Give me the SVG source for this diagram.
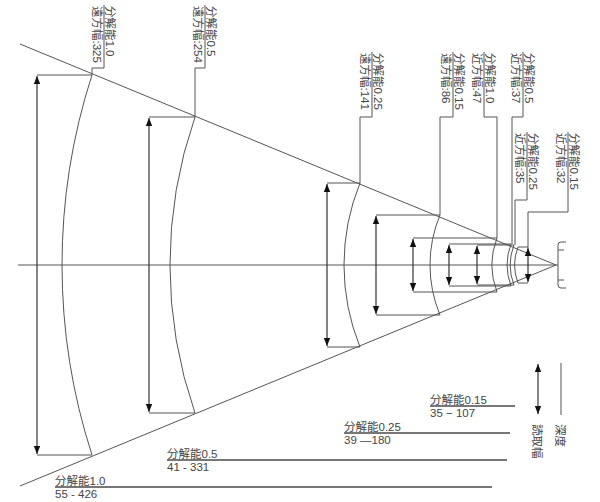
<svg xmlns="http://www.w3.org/2000/svg" width="600" height="502" viewBox="0 0 600 502">
<style>
.l{fill:none;stroke:#555;stroke-width:1}
.a{fill:none;stroke:#333;stroke-width:1.2;marker-start:url(#ar);marker-end:url(#ar)}
.t{font-family:"Liberation Sans","Noto Sans CJK JP",sans-serif;font-size:11.5px;fill:#444}
.lg{fill:none;stroke:#777;stroke-width:2}
</style>
<defs>
<marker id="ar" viewBox="0 0 10 10" refX="10" refY="5" markerWidth="8" markerHeight="8" markerUnits="userSpaceOnUse" orient="auto-start-reverse">
<path d="M0,1 L10,5 L0,9 Z" fill="#111"/>
</marker>
</defs>
<rect width="600" height="502" fill="#fff"/>
<g id="cone">
<line class="l" x1="20" y1="44" x2="556" y2="265"/>
<line class="l" x1="20" y1="486" x2="556" y2="265"/>
<line class="l" x1="18" y1="265" x2="558" y2="265"/>
<path class="l" d="M566,242 H561 Q558,242 558,245 V285 Q558,288 561,288 H566 M558,250 H564 M558,280 H564"/>
</g>
<g id="connectors">
<path class="l" d="M92,75 A617,617 0 0 0 92,455"/>
<path class="l" d="M195,117 A450,450 0 0 0 195,413"/>
<path class="l" d="M360,183 A218,218 0 0 0 360,347"/>
<path class="l" d="M440,215 A130,130 0 0 0 440,315"/>
<path class="l" d="M497,238 A75,75 0 0 0 497,292"/>
<path class="l" d="M511,244 A60,60 0 0 0 511,286"/>
<path class="l" d="M514,245 A55,55 0 0 0 514,285"/>
<path class="l" d="M518,247 A50,50 0 0 0 518,283"/>
<path class="l" d="M37,75 H92 M37,455 H92"/>
<path class="l" d="M149,117 H195 M149,413 H195"/>
<path class="l" d="M327,183 H360 M327,347 H360"/>
<path class="l" d="M376,215 H440 M376,315 H440"/>
<path class="l" d="M413,238 H497 M413,292 H497"/>
<path class="l" d="M449,244 H511 M449,286 H511"/>
<path class="l" d="M477,245 H514 M477,285 H514"/>
<path class="l" d="M518,247 H528 M518,283 H528"/>
<line class="a" x1="37" y1="76" x2="37" y2="454"/>
<line class="a" x1="149" y1="118" x2="149" y2="412"/>
<line class="a" x1="327" y1="184" x2="327" y2="346"/>
<line class="a" x1="376" y1="216" x2="376" y2="314"/>
<line class="a" x1="413" y1="239" x2="413" y2="291"/>
<line class="a" x1="449" y1="245" x2="449" y2="285"/>
<line class="a" x1="477" y1="246" x2="477" y2="284"/>
<line class="a" x1="528" y1="248" x2="528" y2="282"/>
<path class="l" d="M92,75 V68 H104 V5"/>
<path class="l" d="M195,117 V68 H205 V5"/>
<path class="l" d="M360,183 V117 H372 V52"/>
<path class="l" d="M440,215 V117 H453 V52"/>
<path class="l" d="M497,238 V117 H484 V52"/>
<path class="l" d="M512,244 V117 H523 V52"/>
<path class="l" d="M515,245 V200 H527 V132"/>
<path class="l" d="M528,248 V212 H568 V132"/>
</g>
<g id="label-far10" class="t" transform="translate(104,5) rotate(90)"><text x="1" y="-2">分解能1.0</text><text x="1" y="11">遠方幅:325</text></g>
<g id="label-far05" class="t" transform="translate(205,5) rotate(90)"><text x="1" y="-2">分解能0.5</text><text x="1" y="11">遠方幅:254</text></g>
<g id="label-far025" class="t" transform="translate(372,52) rotate(90)"><text x="1" y="-2">分解能0.25</text><text x="1" y="11">遠方幅:141</text></g>
<g id="label-far015" class="t" transform="translate(453,52) rotate(90)"><text x="1" y="-2">分解能0.15</text><text x="1" y="11">遠方幅:86</text></g>
<g id="label-near10" class="t" transform="translate(484,52) rotate(90)"><text x="1" y="-2">分解能1.0</text><text x="1" y="11">近方幅:47</text></g>
<g id="label-near05" class="t" transform="translate(523,52) rotate(90)"><text x="1" y="-2">分解能0.5</text><text x="1" y="11">近方幅:37</text></g>
<g id="label-near025" class="t" transform="translate(527,132) rotate(90)"><text x="1" y="-2">分解能0.25</text><text x="1" y="11">近方幅:35</text></g>
<g id="label-near015" class="t" transform="translate(568,132) rotate(90)"><text x="1" y="-2">分解能0.15</text><text x="1" y="11">近方幅:32</text></g>
<g id="legend-depth">
<line class="lg" x1="430" y1="406" x2="515" y2="406"/>
<text class="t" x="430" y="404">分解能0.15</text><text class="t" x="430" y="417">35 − 107</text>
<line class="lg" x1="344" y1="433" x2="510" y2="433"/>
<text class="t" x="344" y="431">分解能0.25</text><text class="t" x="344" y="444">39 —180</text>
<line class="lg" x1="167" y1="460" x2="507" y2="460"/>
<text class="t" x="167" y="458">分解能0.5</text><text class="t" x="167" y="471">41 - 331</text>
<line class="lg" x1="55" y1="487" x2="492" y2="487"/>
<text class="t" x="55" y="485">分解能1.0</text><text class="t" x="55" y="498">55 - 426</text>
</g>
<g id="legend-key">
<line class="a" x1="538" y1="364" x2="538" y2="414"/>
<line class="l" x1="561" y1="363" x2="561" y2="415"/>
<g class="t" transform="translate(533,424) rotate(90)"><text x="0" y="0">読取幅</text></g>
<g class="t" transform="translate(556,424) rotate(90)"><text x="0" y="0">深度</text></g>
</g>
</svg>
